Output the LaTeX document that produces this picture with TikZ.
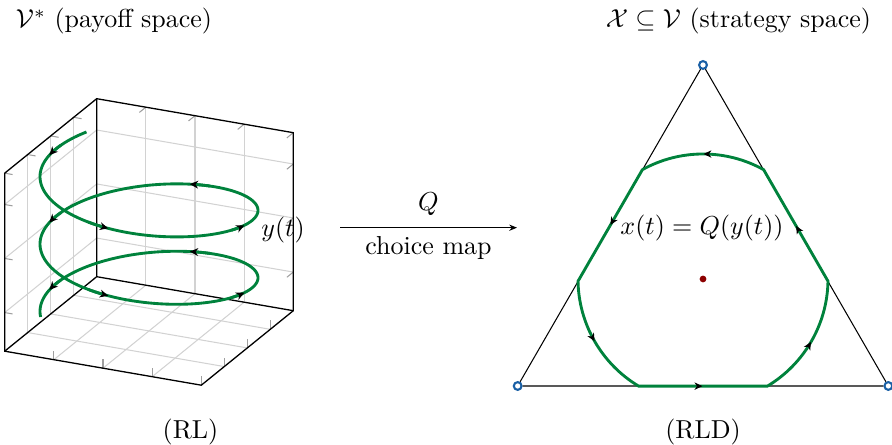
\documentclass[tikz,border=0pt]{standalone}
\usepackage{amsmath, amssymb}
\usetikzlibrary{arrows.meta, positioning, calc, decorations.markings}
\definecolor{flowgreen}{RGB}{0,130,60}
\definecolor{vertexblue}{RGB}{25,95,165}
\definecolor{darkred1}{RGB}{140,0,0}

\tikzset{
  boxedge/.style={black, line width=0.5pt},
  gridline/.style={gray!35, line width=0.4pt},
  tickline/.style={gray!75, line width=0.4pt},
  flow/.style={flowgreen, line width=1.1pt},
  flowtip/.style={-{Stealth[color=black, length=3.2pt, width=3pt, inset=1pt]}},
  vertex/.style={circle, draw=vertexblue, fill=white, line width=0.8pt, inner sep=0pt, minimum size=3pt},
}

\begin{document}
\begin{tikzpicture}[x=0.385pt, y=0.385pt]
  \useasboundingbox (0,0) rectangle (892,445);

  % payoff space
  \begin{scope}[shift={(96.7,168.3)}, x={(75.69pt,-13.09pt)}, y={(-35.42pt,-28.68pt)}, z={(0pt,68.53pt)}]
    \foreach \s in {0.25,0.5,0.75} {
      \draw[gridline] (\s,0,0) -- (\s,0,1);
      \draw[gridline] (\s,0,0) -- (\s,1,0);
      \draw[gridline] (0,\s,0) -- (0,\s,1);
      \draw[gridline] (0,\s,0) -- (1,\s,0);
    }
    \foreach \h in {0.217,0.521,0.824} {
      \draw[gridline] (0,1,\h) -- (0,0,\h) -- (1,0,\h);
      \draw[tickline] (1,0,\h) -- ++(0,0.07,0);
      \draw[tickline] (0,1,\h) -- ++(0.04,0,0);
    }
    \foreach \s in {0.25,0.5,0.75,1} {
      \draw[tickline] (\s,0,1) -- ++(0,0.07,0);
      \draw[tickline] (\s,1,0) -- ++(0,0,0.05);
      \draw[tickline] (0,\s,1) -- ++(0.04,0,0);
      \draw[tickline] (1,\s,0) -- ++(0,0,0.05);
    }
    \draw[boxedge] (0,1,0) -- (1,1,0) -- (1,0,0) -- (1,0,1) -- (0,0,1) -- (0,1,1) -- cycle;
    \draw[boxedge] (0,0,0) -- (1,0,0) (0,0,0) -- (0,1,0) (0,0,0) -- (0,0,1);
  \end{scope}

  \draw[flow] plot[domain=125:906, samples=300, smooth] ({149+109*cos(\x)}, {302-0.1872*\x+42*sin(\x)});
  \foreach \t in {156,248,331,428,516,608,691,788,876} {
    \draw[flow, flowtip] plot[domain=\t-12:\t, samples=7] ({149+109*cos(\x)}, {302-0.1872*\x+42*sin(\x)});
  }
  \node (ylabel) at (283,215) {$y(t)$};

  % choice map
  \coordinate (mapstart) at (340,217.3);
  \coordinate (mapend) at (517,217.3);
  \draw[-{Stealth[length=3pt, width=2.4pt]}, line width=0.4pt] (mapstart) -- node[above=1pt] (mapQ) {$Q$} node[below] (mapname) {choice map} (mapend);

  % strategy space
  \begin{scope}[shift={(703,166)}]
    \node[vertex] (top) at (90:214) {};
    \node[vertex] (left) at (210:214) {};
    \node[vertex] (right) at (330:214) {};
    \draw[line width=0.4pt] (top) -- (left) -- (right) -- (top);
    \draw[flow, decoration={markings, mark=between positions 0.0833 and 1 step 0.1667 with {\arrow{Stealth[color=black, length=3pt, width=2.8pt, inset=0.9pt]}}}, postaction={decorate}]
      (239:125) -- (301:125) arc[start angle=301, end angle=359, radius=125]
      -- (61:125) arc[start angle=61, end angle=119, radius=125]
      -- (181:125) arc[start angle=181, end angle=239, radius=125] -- cycle;
    \node[circle, fill=darkred1, inner sep=0pt, minimum size=2.6pt] (barycenter) at (0,0) {};
    \node (xlabel) at (-1,51) {$x(t) = Q(y(t))$};
  \end{scope}

  \node (payofflabel) at (114,423.5) {$\mathcal{V}^*$ (payoff space)};
  \node (strategylabel) at (738.5,423.5) {$\mathcal{X} \subseteq \mathcal{V}$ (strategy space)};
  \node (rl) at (190.5,13) {(RL)};
  \node (rld) at (703,13) {(RLD)};
\end{tikzpicture}
\end{document}
